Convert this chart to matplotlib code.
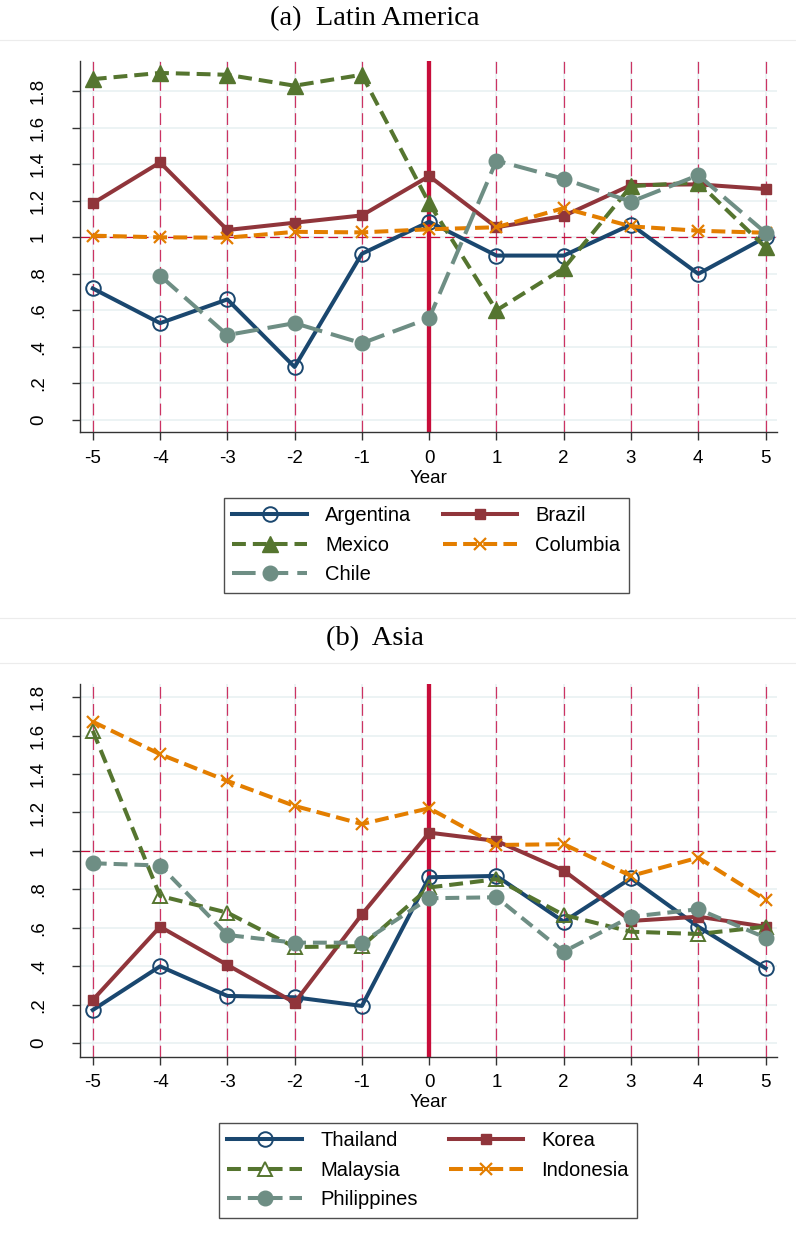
import numpy as np
import matplotlib
matplotlib.use('Agg')
import matplotlib.pyplot as plt
from matplotlib.lines import Line2D

plt.rcParams['font.family'] = ['Liberation Sans', 'DejaVu Sans']
plt.rcParams['lines.scale_dashes'] = False

years = [-5, -4, -3, -2, -1, 0, 1, 2, 3, 4, 5]
yticks = [0, 0.2, 0.4, 0.6, 0.8, 1, 1.2, 1.4, 1.6, 1.8]
yticklabels = ['0', '.2', '.4', '.6', '.8', '1', '1.2', '1.4', '1.6', '1.8']

# panel (a) Latin America
argentina = [0.72, 0.53, 0.66, 0.29, 0.91, 1.085, 0.90, 0.90, 1.07, 0.80, 1.00]
brazil = [1.186, 1.41, 1.04, 1.08, 1.12, 1.335, 1.055, 1.117, 1.286, 1.29, 1.264]
mexico = [1.866, 1.90, 1.89, 1.83, 1.89, 1.186, 0.60, 0.83, 1.28, 1.30, 0.945]
columbia = [1.009, 1.0, 0.998, 1.03, 1.027, 1.044, 1.055, 1.16, 1.06, 1.036, 1.025]
chile = [np.nan, 0.79, 0.465, 0.53, 0.42, 0.557, 1.42, 1.32, 1.195, 1.34, 1.025]

# panel (b) Asia
thailand = [0.173, 0.40, 0.246, 0.239, 0.194, 0.863, 0.87, 0.632, 0.858, 0.606, 0.39]
korea = [0.225, 0.606, 0.407, 0.211, 0.67, 1.095, 1.052, 0.898, 0.636, 0.658, 0.606]
malaysia = [1.625, 0.766, 0.679, 0.50, 0.505, 0.81, 0.853, 0.667, 0.58, 0.568, 0.606]
indonesia = [1.672, 1.503, 1.364, 1.234, 1.14, 1.222, 1.031, 1.035, 0.87, 0.965, 0.745]
philippines = [0.936, 0.924, 0.563, 0.523, 0.523, 0.754, 0.759, 0.476, 0.658, 0.697, 0.549]

NAVY = '#1a476f'
MAROON = '#90353b'
FOREST = '#55752f'
ORANGE = '#e37e00'
TEAL = '#6e8e84'
CRAN = '#c70d3a'
VDASH = '#cc3363'
GRID = '#eaf2f3'

W, H = 796, 1241
fig = plt.figure(figsize=(W / 100, H / 100), dpi=100)


def fy(py):
    return 1 - py / H


def setup_axes(ax, ylim):
    ax.set_xlim(-5.19, 5.17)
    ax.set_ylim(*ylim)
    ax.set_xticks(years)
    ax.set_xticklabels([str(y) for y in years], fontsize=13.5)
    ax.set_yticks(yticks)
    ax.set_yticklabels(yticklabels, fontsize=13.5, rotation=90, va='center')
    ax.tick_params(axis='x', length=5.8, width=1, color='#333333', pad=7)
    ax.tick_params(axis='y', length=5.8, width=1, color='#333333', pad=18)
    for s in ['top', 'right']:
        ax.spines[s].set_visible(False)
    for s in ['left', 'bottom']:
        ax.spines[s].set_color('#333333')
        ax.spines[s].set_linewidth(1)
    for y in yticks:
        ax.axhline(y, color=GRID, lw=1.3, zorder=0.5)
    for x in years:
        ax.axvline(x, color=GRID, lw=1.3, zorder=0.5)
        if x != 0:
            ax.axvline(x, color=VDASH, lw=0.9, dashes=(8.5, 3.8), zorder=1)
    ax.axhline(1, color=CRAN, lw=0.9, dashes=(7, 3.5), zorder=1)
    ax.axvline(0, color=CRAN, lw=3.1, zorder=1.5)
    ax.set_xlabel('Year', fontsize=13.5, labelpad=2)


def plot_series(ax, specs):
    handles = []
    for vals, label, color, dashes, marker, ms, filled in specs:
        kw = dict(color=color, lw=2.9, marker=marker, markersize=ms,
                  markeredgecolor=color, label=label, zorder=3)
        if filled:
            kw['markerfacecolor'] = color
        else:
            kw['markerfacecolor'] = 'none'
            kw['markeredgewidth'] = 1.4
        if marker == 'x':
            kw['markeredgewidth'] = 1.6
        if dashes is not None:
            kw['dashes'] = dashes
        line, = ax.plot(years, vals, **kw)
        handles.append(line)
    return handles


def add_legend(handles, x0, y0):
    order = [0, 2, 4, 1, 3]
    hs = [handles[i] for i in order]
    leg = fig.legend(hs, [h.get_label() for h in hs], ncol=2,
                     loc='upper left', bbox_to_anchor=(x0 / W, fy(y0)),
                     fontsize=14.5, frameon=True, fancybox=False,
                     edgecolor='#222222', handlelength=3.7, handletextpad=0.9,
                     columnspacing=1.55, labelspacing=0.52, borderpad=0.42,
                     borderaxespad=0)
    leg.get_frame().set_linewidth(1)


# faint region borders
for py in [40, 618, 663]:
    fig.add_artist(Line2D([0, 1], [fy(py), fy(py)], color='#ececec', lw=0.8))

fig.text(375 / W, fy(19), '(a)  Latin America', ha='center', va='center',
         fontsize=20.5, family=['Liberation Serif', 'DejaVu Serif'])
fig.text(375 / W, fy(639), '(b)  Asia', ha='center', va='center',
         fontsize=20.5, family=['Liberation Serif', 'DejaVu Serif'])

ax1 = fig.add_axes([80 / W, fy(432), 697 / W, (432 - 60.7) / H])
setup_axes(ax1, (-0.066, 1.967))
h1 = plot_series(ax1, [
    (argentina, 'Argentina', NAVY, None, 'o', 10.5, False),
    (brazil, 'Brazil', MAROON, None, 's', 7, True),
    (mexico, 'Mexico', FOREST, (10, 5), '^', 11, True),
    (columbia, 'Columbia', ORANGE, (10, 4.5), 'x', 9, True),
    (chile, 'Chile', TEAL, (17, 6.5), 'o', 10.5, True),
])
add_legend(h1, 224, 498)

ax2 = fig.add_axes([80 / W, fy(1056.7), 697 / W, (1056.7 - 684) / H])
setup_axes(ax2, (-0.07, 1.868))
h2 = plot_series(ax2, [
    (thailand, 'Thailand', NAVY, None, 'o', 10.5, False),
    (korea, 'Korea', MAROON, None, 's', 7, True),
    (malaysia, 'Malaysia', FOREST, (10, 5), '^', 10, False),
    (indonesia, 'Indonesia', ORANGE, (10, 4.5), 'x', 9, True),
    (philippines, 'Philippines', TEAL, (10, 5), 'o', 10.5, True),
])
add_legend(h2, 219, 1123)

fig.savefig('out.png', dpi=100, facecolor='white')
